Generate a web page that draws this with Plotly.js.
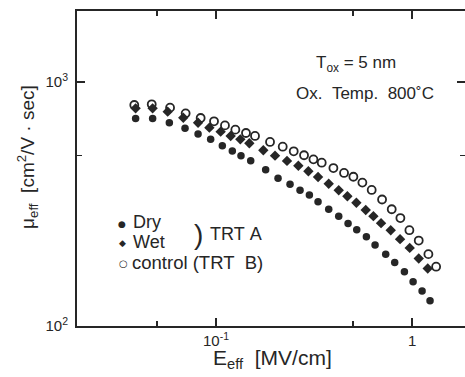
<!DOCTYPE html>
<html>
<head>
<meta charset="utf-8">
<script src="https://cdn.plot.ly/plotly-3.0.1.min.js"></script>
<style>html,body{margin:0;padding:0;background:#fff;} #chart{width:465px;height:377px;}</style>
</head>
<body>
<div id="chart"></div>
<script>
// Effective field (MV/cm) and effective mobility (cm^2/V·sec)
const dryE = [0.0389,0.0475,0.0578,0.0695,0.0810,0.0939,0.1077,0.1211,0.1341,0.1503,0.1792,0.2072,0.2385,0.2683,0.2994,0.3315,0.3757,0.4226,0.4716,0.5222,0.5848,0.6476,0.7337,0.8156,0.9140,1.012,1.125,1.235];
const dryMu = [709,709,681,646,612,582,548,521,499,476,437,403,381,360,344,323,301,282,263,248,232,215,197,182,167,152,139,127];

const wetE = [0.0389,0.0475,0.0567,0.0681,0.0810,0.0925,0.1056,0.1188,0.1331,0.1479,0.1743,0.2000,0.2302,0.2630,0.2959,0.3315,0.3757,0.4226,0.4679,0.5200,0.5803,0.6350,0.6947,0.7784,0.8686,0.9729,1.0815,1.2020];
const wetMu = [780,780,756,714,681,650,626,601,582,561,525,499,475,454,431,408,383,360,340,320,299,282,264,247,227,209,189,172];

const ctrlE = [0.0383,0.0470,0.0583,0.0700,0.0835,0.0977,0.1111,0.1255,0.1422,0.1581,0.1886,0.2189,0.2491,0.2812,0.3140,0.3461,0.3970,0.4499,0.5020,0.5579,0.6223,0.7031,0.7875,0.8719,0.9692,1.0815,1.2113,1.3264];
const ctrlMu = [805,810,785,744,712,690,664,638,618,601,568,543,520,501,482,467,444,424,409,387,361,330,301,277,247,224,197,175];

const xTickVals = [0.1, 1];
const xTickText = ['10<sup>-1</sup>', '1'];
const xMinorVals = [0.05, 0.5];
const yTickVals = [100, 1000];
const yTickText = ['10<sup>2</sup>', '10<sup>3</sup>'];
const yMinorVals = [500];

const ink = '#262626';
const FONT = 'Liberation Sans, Arial, Helvetica, sans-serif';
const SP = '\u00A0';

const traces = [
  {x: dryE, y: dryMu, mode: 'markers', type: 'scatter', name: 'Dry',
   marker: {symbol: 'circle', size: 7.5, color: ink}},
  {x: wetE, y: wetMu, mode: 'markers', type: 'scatter', name: 'Wet',
   marker: {symbol: 'diamond', size: 8, color: ink}},
  {x: ctrlE, y: ctrlMu, mode: 'markers', type: 'scatter', name: 'control (TRT B)',
   marker: {symbol: 'circle-open', size: 8, color: ink, line: {width: 1.8, color: ink}}}
];

const axisCommon = {
  type: 'log', showgrid: false, zeroline: false,
  showline: true, linecolor: ink, linewidth: 2, mirror: 'ticks',
  ticks: 'inside', ticklen: 8, tickwidth: 1.5, tickcolor: ink,
  tickfont: {family: FONT, size: 15, color: ink},
  tickmode: 'array'
};

function ann(text, xp, yp, size, opts) {
  return Object.assign({xref: 'paper', yref: 'paper', x: xp, y: yp, showarrow: false,
    xanchor: 'center', yanchor: 'middle', text: text,
    font: {family: FONT, size: size, color: ink}}, opts || {});
}

const layout = {
  width: 465, height: 377,
  margin: {l: 77, r: 0, t: 11, b: 51},
  paper_bgcolor: '#fff', plot_bgcolor: '#fff',
  showlegend: false,
  font: {family: FONT, color: ink},
  xaxis: Object.assign({}, axisCommon, {
    range: [-1.709, 0.270],
    tickvals: xTickVals, ticktext: xTickText,
    minor: {tickmode: 'array', tickvals: xMinorVals, ticks: 'inside', ticklen: 5, tickwidth: 1.5, tickcolor: ink},
    ticklabelstandoff: 0
  }),
  yaxis: Object.assign({}, axisCommon, {
    range: [2, 3.291],
    tickvals: yTickVals, ticktext: yTickText,
    minor: {tickmode: 'array', tickvals: yMinorVals, ticks: 'inside', ticklen: 5, tickwidth: 1.5, tickcolor: ink},
    ticklabelstandoff: 4
  }),
  annotations: [
    ann('μ<sub>eff</sub>' + SP + SP + '[cm<sup>2</sup>/V' + SP + '·' + SP + 'sec]', -0.126, 0.537, 19, {textangle: -90}),
    ann('E<sub>eff</sub>' + SP + SP + '[MV/cm]', 0.505, -0.106, 21),
    ann('T<sub>ox</sub> = 5 nm', 0.719, 0.832, 17),
    ann('Ox.' + SP + SP + 'Temp.' + SP + SP + '800˚C', 0.742, 0.737, 17),
    // legend
    ann('●', 0.116, 0.324, 9, {font: {family: 'DejaVu Sans', size: 9, color: ink}}),
    ann('◆', 0.116, 0.262, 9, {font: {family: 'DejaVu Sans', size: 9, color: ink}}),
    ann('○', 0.1186, 0.200, 10, {font: {family: 'DejaVu Sans', size: 10, color: ink}}),
    ann('Dry', 0.139, 0.330, 18, {xanchor: 'left'}),
    ann('Wet', 0.139, 0.266, 18, {xanchor: 'left'}),
    ann('control' + SP + '(TRT' + SP + SP + 'B)', 0.137, 0.203, 18.5, {xanchor: 'left'}),
    ann(')', 0.312, 0.292, 28),
    ann('TRT' + SP + 'A', 0.338, 0.292, 18, {xanchor: 'left'})
  ]
};

Plotly.newPlot('chart', traces, layout, {staticPlot: true, displayModeBar: false});
</script>
</body>
</html>
